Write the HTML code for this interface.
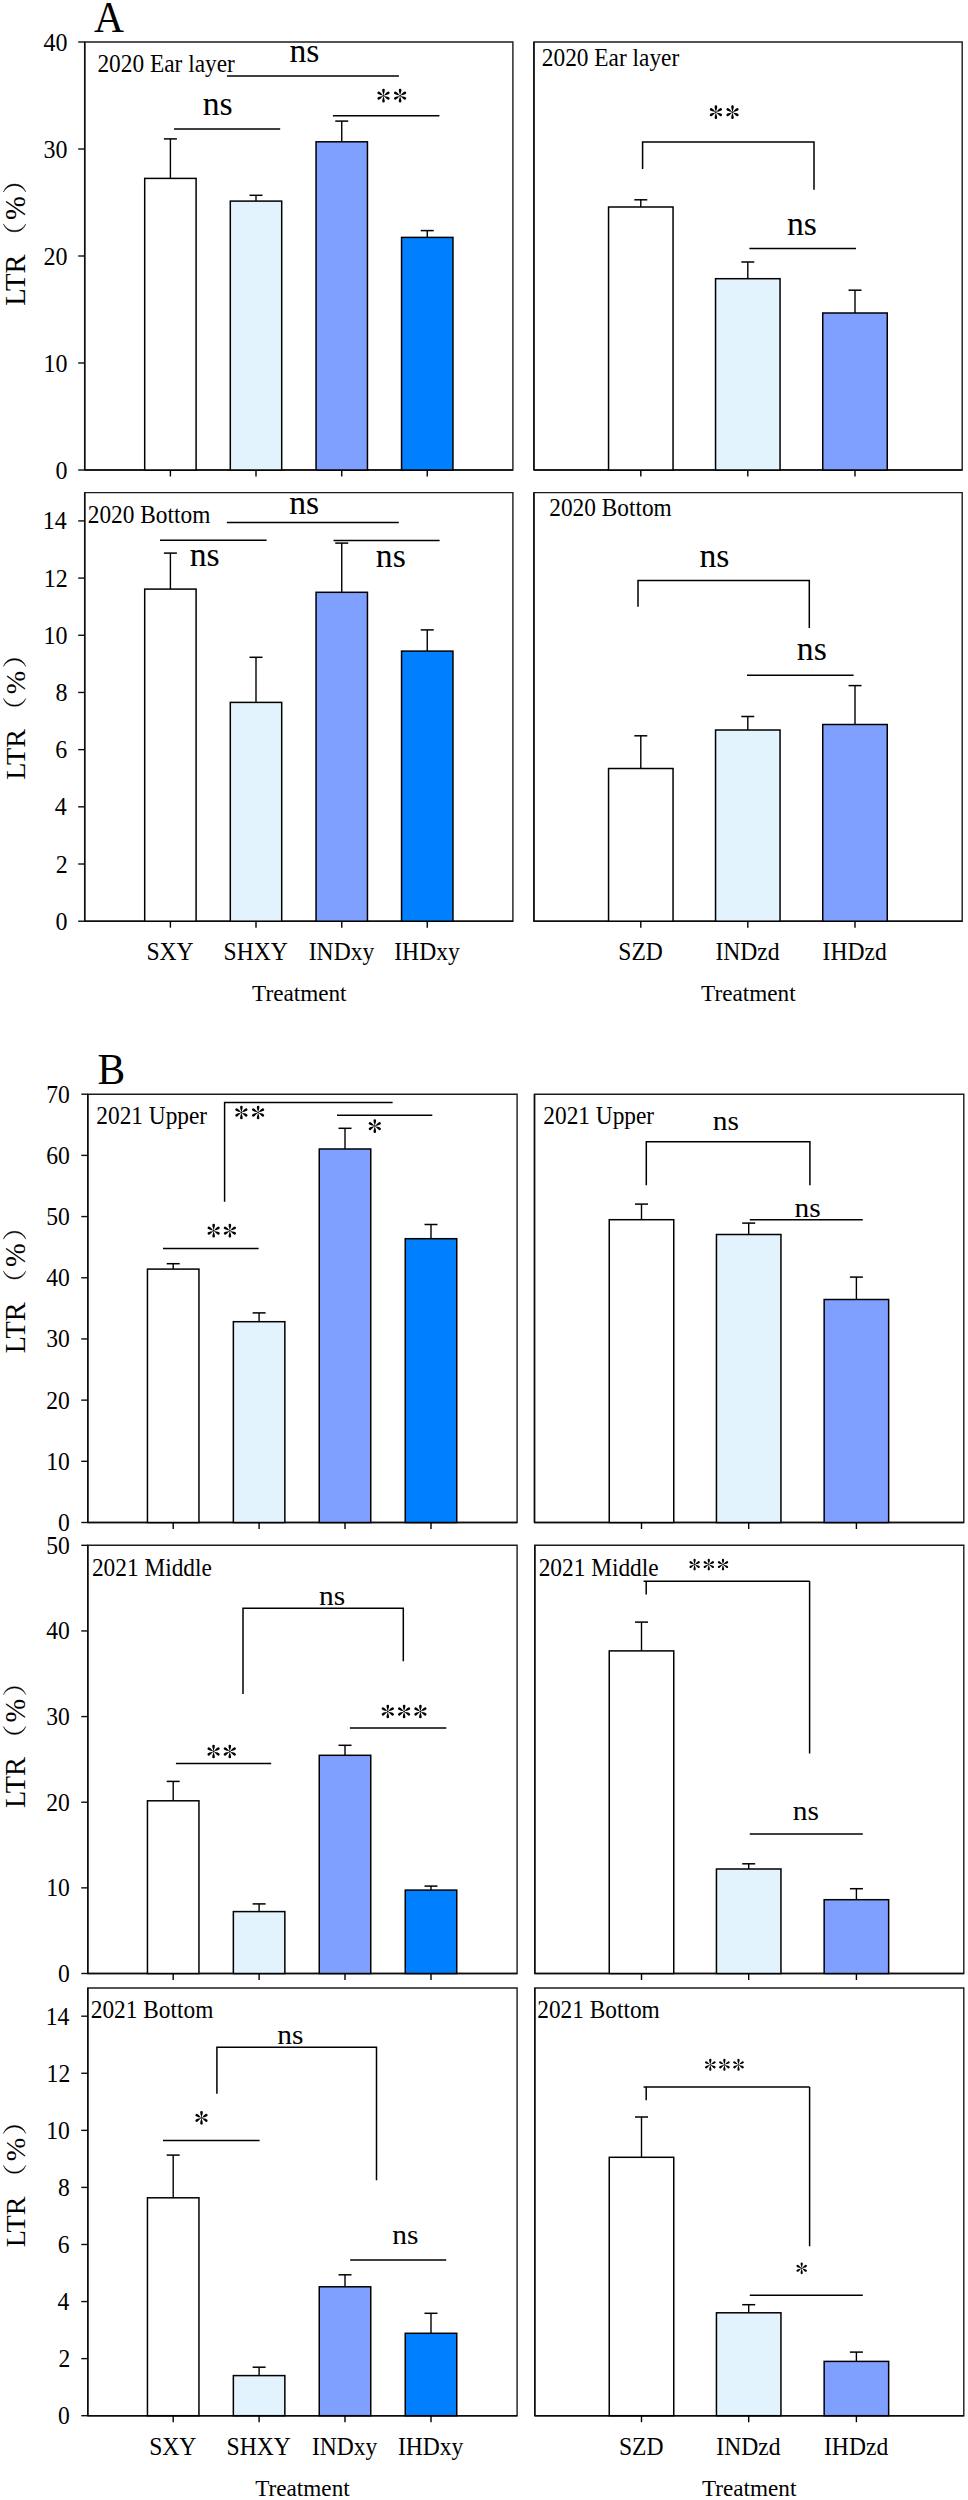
<!DOCTYPE html>
<html><head><meta charset="utf-8"><title>LTR figure</title>
<style>
html,body{margin:0;padding:0;background:#fff;}
svg{display:block;}
text{font-family:"Liberation Serif", serif;fill:#000;}
</style></head>
<body>
<svg width="968" height="2500" viewBox="0 0 968 2500">
<rect x="0" y="0" width="968" height="2500" fill="#fff"/>
<text transform="translate(93.96,31.50) scale(1.0,1.05)" font-size="41.5">A</text>
<path d="M84.70 470.00 L84.70 42.00 L512.90 42.00 L512.90 470.00 Z" fill="none" stroke="#1c1c1c" stroke-width="1.4" stroke-linejoin="miter"/>
<line x1="84.70" y1="42.00" x2="84.70" y2="470.00" stroke="#0d0d0d" stroke-width="1.5"/>
<line x1="84.70" y1="470.00" x2="512.90" y2="470.00" stroke="#0d0d0d" stroke-width="1.5"/>
<line x1="78.20" y1="470.00" x2="84.70" y2="470.00" stroke="#0d0d0d" stroke-width="1.4"/>
<text transform="translate(55.46,478.58) scale(1,1.09)" font-size="24">0</text>
<line x1="78.20" y1="363.00" x2="84.70" y2="363.00" stroke="#0d0d0d" stroke-width="1.4"/>
<text transform="translate(43.46,371.58) scale(1,1.09)" font-size="24">10</text>
<line x1="78.20" y1="256.00" x2="84.70" y2="256.00" stroke="#0d0d0d" stroke-width="1.4"/>
<text transform="translate(43.46,264.58) scale(1,1.09)" font-size="24">20</text>
<line x1="78.20" y1="149.00" x2="84.70" y2="149.00" stroke="#0d0d0d" stroke-width="1.4"/>
<text transform="translate(43.46,157.58) scale(1,1.09)" font-size="24">30</text>
<line x1="78.20" y1="42.00" x2="84.70" y2="42.00" stroke="#0d0d0d" stroke-width="1.4"/>
<text transform="translate(43.46,50.58) scale(1,1.09)" font-size="24">40</text>
<line x1="170.40" y1="178.40" x2="170.40" y2="138.90" stroke="#000" stroke-width="1.4"/>
<line x1="163.90" y1="138.90" x2="176.90" y2="138.90" stroke="#000" stroke-width="1.5"/>
<rect x="144.70" y="178.40" width="51.40" height="291.60" fill="#ffffff" stroke="#000" stroke-width="1.5"/>
<line x1="170.40" y1="470.00" x2="170.40" y2="476.50" stroke="#000" stroke-width="1.4"/>
<line x1="256.00" y1="201.10" x2="256.00" y2="195.30" stroke="#000" stroke-width="1.4"/>
<line x1="249.50" y1="195.30" x2="262.50" y2="195.30" stroke="#000" stroke-width="1.5"/>
<rect x="230.30" y="201.10" width="51.40" height="268.90" fill="#e2f3fe" stroke="#000" stroke-width="1.5"/>
<line x1="256.00" y1="470.00" x2="256.00" y2="476.50" stroke="#000" stroke-width="1.4"/>
<line x1="341.75" y1="141.80" x2="341.75" y2="121.10" stroke="#000" stroke-width="1.4"/>
<line x1="335.25" y1="121.10" x2="348.25" y2="121.10" stroke="#000" stroke-width="1.5"/>
<rect x="316.05" y="141.80" width="51.40" height="328.20" fill="#80a0ff" stroke="#000" stroke-width="1.5"/>
<line x1="341.75" y1="470.00" x2="341.75" y2="476.50" stroke="#000" stroke-width="1.4"/>
<line x1="427.25" y1="237.40" x2="427.25" y2="230.60" stroke="#000" stroke-width="1.4"/>
<line x1="420.75" y1="230.60" x2="433.75" y2="230.60" stroke="#000" stroke-width="1.5"/>
<rect x="401.55" y="237.40" width="51.40" height="232.60" fill="#0080ff" stroke="#000" stroke-width="1.5"/>
<line x1="427.25" y1="470.00" x2="427.25" y2="476.50" stroke="#000" stroke-width="1.4"/>
<text transform="translate(97.43,72.40) scale(1.0,1.07)" font-size="23.35">2020 Ear layer</text>
<line x1="226.90" y1="75.90" x2="398.90" y2="75.90" stroke="#000" stroke-width="1.5"/>
<text x="289.42" y="62.40" font-size="33.7">ns</text>
<line x1="174.00" y1="129.00" x2="280.20" y2="129.00" stroke="#000" stroke-width="1.5"/>
<text x="202.67" y="115.00" font-size="33.7">ns</text>
<line x1="332.90" y1="115.70" x2="439.40" y2="115.70" stroke="#000" stroke-width="1.5"/>
<g transform="translate(383.50,95.65) scale(1.000)" fill="#000"><path d="M0 0 C-0.3 -1.9,-1.3 -3.7,-1.3 -5.55 A1.3 1.3 0 0 1 1.3 -5.55 C1.3 -3.7,0.3 -1.9,0 0 Z"/><path d="M0 0 C-0.3 -1.9,-1.3 -3.7,-1.3 -5.55 A1.3 1.3 0 0 1 1.3 -5.55 C1.3 -3.7,0.3 -1.9,0 0 Z" transform="rotate(60)"/><path d="M0 0 C-0.3 -1.9,-1.3 -3.7,-1.3 -5.55 A1.3 1.3 0 0 1 1.3 -5.55 C1.3 -3.7,0.3 -1.9,0 0 Z" transform="rotate(120)"/><path d="M0 0 C-0.3 -1.9,-1.3 -3.7,-1.3 -5.55 A1.3 1.3 0 0 1 1.3 -5.55 C1.3 -3.7,0.3 -1.9,0 0 Z" transform="rotate(180)"/><path d="M0 0 C-0.3 -1.9,-1.3 -3.7,-1.3 -5.55 A1.3 1.3 0 0 1 1.3 -5.55 C1.3 -3.7,0.3 -1.9,0 0 Z" transform="rotate(240)"/><path d="M0 0 C-0.3 -1.9,-1.3 -3.7,-1.3 -5.55 A1.3 1.3 0 0 1 1.3 -5.55 C1.3 -3.7,0.3 -1.9,0 0 Z" transform="rotate(300)"/><circle r="0.75"/></g>
<g transform="translate(400.10,95.65) scale(1.000)" fill="#000"><path d="M0 0 C-0.3 -1.9,-1.3 -3.7,-1.3 -5.55 A1.3 1.3 0 0 1 1.3 -5.55 C1.3 -3.7,0.3 -1.9,0 0 Z"/><path d="M0 0 C-0.3 -1.9,-1.3 -3.7,-1.3 -5.55 A1.3 1.3 0 0 1 1.3 -5.55 C1.3 -3.7,0.3 -1.9,0 0 Z" transform="rotate(60)"/><path d="M0 0 C-0.3 -1.9,-1.3 -3.7,-1.3 -5.55 A1.3 1.3 0 0 1 1.3 -5.55 C1.3 -3.7,0.3 -1.9,0 0 Z" transform="rotate(120)"/><path d="M0 0 C-0.3 -1.9,-1.3 -3.7,-1.3 -5.55 A1.3 1.3 0 0 1 1.3 -5.55 C1.3 -3.7,0.3 -1.9,0 0 Z" transform="rotate(180)"/><path d="M0 0 C-0.3 -1.9,-1.3 -3.7,-1.3 -5.55 A1.3 1.3 0 0 1 1.3 -5.55 C1.3 -3.7,0.3 -1.9,0 0 Z" transform="rotate(240)"/><path d="M0 0 C-0.3 -1.9,-1.3 -3.7,-1.3 -5.55 A1.3 1.3 0 0 1 1.3 -5.55 C1.3 -3.7,0.3 -1.9,0 0 Z" transform="rotate(300)"/><circle r="0.75"/></g>
<text transform="translate(25.1,305.86) rotate(-90)" font-size="28.56">LTR</text>
<text transform="translate(25.37,219.92) rotate(-90)" font-size="28.56">%</text>
<path d="M3.4 192.00 A11.9 11.9 0 0 1 25.8 192.00 A12.8 12.8 0 0 0 3.4 192.00 Z" fill="#000" stroke="#000" stroke-width="0.4"/>
<path d="M3.4 223.90 A11.9 11.9 0 0 0 25.8 223.90 A12.8 12.8 0 0 1 3.4 223.90 Z" fill="#000" stroke="#000" stroke-width="0.4"/>
<path d="M533.90 470.00 L533.90 42.00 L962.20 42.00 L962.20 470.00 Z" fill="none" stroke="#1c1c1c" stroke-width="1.4" stroke-linejoin="miter"/>
<line x1="533.90" y1="42.00" x2="533.90" y2="470.00" stroke="#0d0d0d" stroke-width="1.5"/>
<line x1="533.90" y1="470.00" x2="962.20" y2="470.00" stroke="#0d0d0d" stroke-width="1.5"/>
<line x1="640.80" y1="207.00" x2="640.80" y2="199.80" stroke="#000" stroke-width="1.4"/>
<line x1="634.30" y1="199.80" x2="647.30" y2="199.80" stroke="#000" stroke-width="1.5"/>
<rect x="608.55" y="207.00" width="64.50" height="263.00" fill="#ffffff" stroke="#000" stroke-width="1.5"/>
<line x1="640.80" y1="470.00" x2="640.80" y2="476.50" stroke="#000" stroke-width="1.4"/>
<line x1="747.80" y1="278.70" x2="747.80" y2="262.00" stroke="#000" stroke-width="1.4"/>
<line x1="741.30" y1="262.00" x2="754.30" y2="262.00" stroke="#000" stroke-width="1.5"/>
<rect x="715.55" y="278.70" width="64.50" height="191.30" fill="#e2f3fe" stroke="#000" stroke-width="1.5"/>
<line x1="747.80" y1="470.00" x2="747.80" y2="476.50" stroke="#000" stroke-width="1.4"/>
<line x1="855.00" y1="313.00" x2="855.00" y2="290.20" stroke="#000" stroke-width="1.4"/>
<line x1="848.50" y1="290.20" x2="861.50" y2="290.20" stroke="#000" stroke-width="1.5"/>
<rect x="822.75" y="313.00" width="64.50" height="157.00" fill="#80a0ff" stroke="#000" stroke-width="1.5"/>
<line x1="855.00" y1="470.00" x2="855.00" y2="476.50" stroke="#000" stroke-width="1.4"/>
<text transform="translate(541.83,66.20) scale(1.0,1.07)" font-size="23.35">2020 Ear layer</text>
<path d="M642.60 169.00 L642.60 142.00 L814.00 142.00 L814.00 189.80" stroke="#000" stroke-width="1.5" fill="none"/>
<g transform="translate(715.90,112.20) scale(1.000)" fill="#000"><path d="M0 0 C-0.3 -1.9,-1.3 -3.7,-1.3 -5.55 A1.3 1.3 0 0 1 1.3 -5.55 C1.3 -3.7,0.3 -1.9,0 0 Z"/><path d="M0 0 C-0.3 -1.9,-1.3 -3.7,-1.3 -5.55 A1.3 1.3 0 0 1 1.3 -5.55 C1.3 -3.7,0.3 -1.9,0 0 Z" transform="rotate(60)"/><path d="M0 0 C-0.3 -1.9,-1.3 -3.7,-1.3 -5.55 A1.3 1.3 0 0 1 1.3 -5.55 C1.3 -3.7,0.3 -1.9,0 0 Z" transform="rotate(120)"/><path d="M0 0 C-0.3 -1.9,-1.3 -3.7,-1.3 -5.55 A1.3 1.3 0 0 1 1.3 -5.55 C1.3 -3.7,0.3 -1.9,0 0 Z" transform="rotate(180)"/><path d="M0 0 C-0.3 -1.9,-1.3 -3.7,-1.3 -5.55 A1.3 1.3 0 0 1 1.3 -5.55 C1.3 -3.7,0.3 -1.9,0 0 Z" transform="rotate(240)"/><path d="M0 0 C-0.3 -1.9,-1.3 -3.7,-1.3 -5.55 A1.3 1.3 0 0 1 1.3 -5.55 C1.3 -3.7,0.3 -1.9,0 0 Z" transform="rotate(300)"/><circle r="0.75"/></g>
<g transform="translate(732.50,112.20) scale(1.000)" fill="#000"><path d="M0 0 C-0.3 -1.9,-1.3 -3.7,-1.3 -5.55 A1.3 1.3 0 0 1 1.3 -5.55 C1.3 -3.7,0.3 -1.9,0 0 Z"/><path d="M0 0 C-0.3 -1.9,-1.3 -3.7,-1.3 -5.55 A1.3 1.3 0 0 1 1.3 -5.55 C1.3 -3.7,0.3 -1.9,0 0 Z" transform="rotate(60)"/><path d="M0 0 C-0.3 -1.9,-1.3 -3.7,-1.3 -5.55 A1.3 1.3 0 0 1 1.3 -5.55 C1.3 -3.7,0.3 -1.9,0 0 Z" transform="rotate(120)"/><path d="M0 0 C-0.3 -1.9,-1.3 -3.7,-1.3 -5.55 A1.3 1.3 0 0 1 1.3 -5.55 C1.3 -3.7,0.3 -1.9,0 0 Z" transform="rotate(180)"/><path d="M0 0 C-0.3 -1.9,-1.3 -3.7,-1.3 -5.55 A1.3 1.3 0 0 1 1.3 -5.55 C1.3 -3.7,0.3 -1.9,0 0 Z" transform="rotate(240)"/><path d="M0 0 C-0.3 -1.9,-1.3 -3.7,-1.3 -5.55 A1.3 1.3 0 0 1 1.3 -5.55 C1.3 -3.7,0.3 -1.9,0 0 Z" transform="rotate(300)"/><circle r="0.75"/></g>
<line x1="749.40" y1="248.40" x2="856.00" y2="248.40" stroke="#000" stroke-width="1.5"/>
<text x="786.97" y="235.00" font-size="33.7">ns</text>
<path d="M84.70 921.20 L84.70 492.60 L512.90 492.60 L512.90 921.20 Z" fill="none" stroke="#1c1c1c" stroke-width="1.4" stroke-linejoin="miter"/>
<line x1="84.70" y1="492.60" x2="84.70" y2="921.20" stroke="#0d0d0d" stroke-width="1.5"/>
<line x1="84.70" y1="921.20" x2="512.90" y2="921.20" stroke="#0d0d0d" stroke-width="1.5"/>
<line x1="78.20" y1="921.20" x2="84.70" y2="921.20" stroke="#0d0d0d" stroke-width="1.4"/>
<text transform="translate(55.46,929.78) scale(1,1.09)" font-size="24">0</text>
<line x1="78.20" y1="864.01" x2="84.70" y2="864.01" stroke="#0d0d0d" stroke-width="1.4"/>
<text transform="translate(55.82,872.59) scale(1,1.09)" font-size="24">2</text>
<line x1="78.20" y1="806.83" x2="84.70" y2="806.83" stroke="#0d0d0d" stroke-width="1.4"/>
<text transform="translate(54.86,815.41) scale(1,1.09)" font-size="24">4</text>
<line x1="78.20" y1="749.64" x2="84.70" y2="749.64" stroke="#0d0d0d" stroke-width="1.4"/>
<text transform="translate(55.22,758.22) scale(1,1.09)" font-size="24">6</text>
<line x1="78.20" y1="692.46" x2="84.70" y2="692.46" stroke="#0d0d0d" stroke-width="1.4"/>
<text transform="translate(55.46,701.04) scale(1,1.09)" font-size="24">8</text>
<line x1="78.20" y1="635.27" x2="84.70" y2="635.27" stroke="#0d0d0d" stroke-width="1.4"/>
<text transform="translate(43.46,643.85) scale(1,1.09)" font-size="24">10</text>
<line x1="78.20" y1="578.09" x2="84.70" y2="578.09" stroke="#0d0d0d" stroke-width="1.4"/>
<text transform="translate(43.82,586.66) scale(1,1.09)" font-size="24">12</text>
<line x1="78.20" y1="520.90" x2="84.70" y2="520.90" stroke="#0d0d0d" stroke-width="1.4"/>
<text transform="translate(42.86,529.48) scale(1,1.09)" font-size="24">14</text>
<line x1="170.40" y1="589.10" x2="170.40" y2="553.10" stroke="#000" stroke-width="1.4"/>
<line x1="163.90" y1="553.10" x2="176.90" y2="553.10" stroke="#000" stroke-width="1.5"/>
<rect x="144.70" y="589.10" width="51.40" height="332.10" fill="#ffffff" stroke="#000" stroke-width="1.5"/>
<line x1="170.40" y1="921.20" x2="170.40" y2="927.70" stroke="#000" stroke-width="1.4"/>
<line x1="256.00" y1="702.40" x2="256.00" y2="657.30" stroke="#000" stroke-width="1.4"/>
<line x1="249.50" y1="657.30" x2="262.50" y2="657.30" stroke="#000" stroke-width="1.5"/>
<rect x="230.30" y="702.40" width="51.40" height="218.80" fill="#e2f3fe" stroke="#000" stroke-width="1.5"/>
<line x1="256.00" y1="921.20" x2="256.00" y2="927.70" stroke="#000" stroke-width="1.4"/>
<line x1="341.75" y1="592.30" x2="341.75" y2="543.10" stroke="#000" stroke-width="1.4"/>
<line x1="335.25" y1="543.10" x2="348.25" y2="543.10" stroke="#000" stroke-width="1.5"/>
<rect x="316.05" y="592.30" width="51.40" height="328.90" fill="#80a0ff" stroke="#000" stroke-width="1.5"/>
<line x1="341.75" y1="921.20" x2="341.75" y2="927.70" stroke="#000" stroke-width="1.4"/>
<line x1="427.25" y1="651.10" x2="427.25" y2="629.90" stroke="#000" stroke-width="1.4"/>
<line x1="420.75" y1="629.90" x2="433.75" y2="629.90" stroke="#000" stroke-width="1.5"/>
<rect x="401.55" y="651.10" width="51.40" height="270.10" fill="#0080ff" stroke="#000" stroke-width="1.5"/>
<line x1="427.25" y1="921.20" x2="427.25" y2="927.70" stroke="#000" stroke-width="1.4"/>
<text transform="translate(87.76,522.60) scale(1.0,1.07)" font-size="23.35">2020 Bottom</text>
<line x1="226.90" y1="522.50" x2="398.80" y2="522.50" stroke="#000" stroke-width="1.5"/>
<text x="289.27" y="513.60" font-size="33.7">ns</text>
<line x1="160.00" y1="540.20" x2="266.60" y2="540.20" stroke="#000" stroke-width="1.5"/>
<text x="189.72" y="565.50" font-size="33.7">ns</text>
<line x1="333.50" y1="540.40" x2="439.60" y2="540.40" stroke="#000" stroke-width="1.5"/>
<text x="375.87" y="566.50" font-size="33.7">ns</text>
<text transform="translate(25.1,779.64) rotate(-90)" font-size="28.16">LTR</text>
<text transform="translate(25.38,694.26) rotate(-90)" font-size="28.16">%</text>
<path d="M3.4 666.50 A11.9 11.9 0 0 1 25.8 666.50 A12.8 12.8 0 0 0 3.4 666.50 Z" fill="#000" stroke="#000" stroke-width="0.4"/>
<path d="M3.4 698.40 A11.9 11.9 0 0 0 25.8 698.40 A12.8 12.8 0 0 1 3.4 698.40 Z" fill="#000" stroke="#000" stroke-width="0.4"/>
<path d="M533.90 921.20 L533.90 492.60 L962.20 492.60 L962.20 921.20 Z" fill="none" stroke="#1c1c1c" stroke-width="1.4" stroke-linejoin="miter"/>
<line x1="533.90" y1="492.60" x2="533.90" y2="921.20" stroke="#0d0d0d" stroke-width="1.5"/>
<line x1="533.90" y1="921.20" x2="962.20" y2="921.20" stroke="#0d0d0d" stroke-width="1.5"/>
<line x1="640.80" y1="768.50" x2="640.80" y2="735.80" stroke="#000" stroke-width="1.4"/>
<line x1="634.30" y1="735.80" x2="647.30" y2="735.80" stroke="#000" stroke-width="1.5"/>
<rect x="608.55" y="768.50" width="64.50" height="152.70" fill="#ffffff" stroke="#000" stroke-width="1.5"/>
<line x1="640.80" y1="921.20" x2="640.80" y2="927.70" stroke="#000" stroke-width="1.4"/>
<line x1="747.80" y1="730.00" x2="747.80" y2="716.50" stroke="#000" stroke-width="1.4"/>
<line x1="741.30" y1="716.50" x2="754.30" y2="716.50" stroke="#000" stroke-width="1.5"/>
<rect x="715.55" y="730.00" width="64.50" height="191.20" fill="#e2f3fe" stroke="#000" stroke-width="1.5"/>
<line x1="747.80" y1="921.20" x2="747.80" y2="927.70" stroke="#000" stroke-width="1.4"/>
<line x1="855.00" y1="724.50" x2="855.00" y2="685.60" stroke="#000" stroke-width="1.4"/>
<line x1="848.50" y1="685.60" x2="861.50" y2="685.60" stroke="#000" stroke-width="1.5"/>
<rect x="822.75" y="724.50" width="64.50" height="196.70" fill="#80a0ff" stroke="#000" stroke-width="1.5"/>
<line x1="855.00" y1="921.20" x2="855.00" y2="927.70" stroke="#000" stroke-width="1.4"/>
<text transform="translate(549.21,516.30) scale(1.0,1.07)" font-size="23.35">2020 Bottom</text>
<path d="M638.00 606.80 L638.00 580.50 L809.30 580.50 L809.30 628.10" stroke="#000" stroke-width="1.5" fill="none"/>
<text x="699.47" y="566.50" font-size="33.7">ns</text>
<line x1="747.00" y1="675.20" x2="853.60" y2="675.20" stroke="#000" stroke-width="1.5"/>
<text x="796.87" y="659.50" font-size="33.7">ns</text>
<text transform="translate(146.43,959.90) scale(1.0,1.05)" font-size="23.6">SXY</text>
<text transform="translate(223.53,959.90) scale(1.0,1.05)" font-size="23.6">SHXY</text>
<text transform="translate(308.75,959.90) scale(1.0,1.05)" font-size="23.6">INDxy</text>
<text transform="translate(394.25,959.90) scale(1.0,1.05)" font-size="23.6">IHDxy</text>
<text transform="translate(618.26,959.90) scale(1.0,1.05)" font-size="23.6">SZD</text>
<text transform="translate(715.41,959.90) scale(1.0,1.05)" font-size="23.6">INDzd</text>
<text transform="translate(822.61,959.90) scale(1.0,1.05)" font-size="23.6">IHDzd</text>
<text transform="translate(252.06,1000.80) scale(1.0,1.04)" font-size="23.2">Treatment</text>
<text transform="translate(701.11,1000.80) scale(1.0,1.04)" font-size="23.2">Treatment</text>
<text transform="translate(97.56,1083.80) scale(1.0,1.05)" font-size="41.5">B</text>
<path d="M87.80 1522.50 L87.80 1094.20 L517.10 1094.20 L517.10 1522.50 Z" fill="none" stroke="#1c1c1c" stroke-width="1.4" stroke-linejoin="miter"/>
<line x1="87.80" y1="1094.20" x2="87.80" y2="1522.50" stroke="#0d0d0d" stroke-width="1.5"/>
<line x1="87.80" y1="1522.50" x2="517.10" y2="1522.50" stroke="#0d0d0d" stroke-width="1.5"/>
<line x1="81.30" y1="1522.50" x2="87.80" y2="1522.50" stroke="#0d0d0d" stroke-width="1.4"/>
<text transform="translate(58.04,1530.94) scale(1,1.09)" font-size="23.6">0</text>
<line x1="81.30" y1="1461.31" x2="87.80" y2="1461.31" stroke="#0d0d0d" stroke-width="1.4"/>
<text transform="translate(46.24,1469.75) scale(1,1.09)" font-size="23.6">10</text>
<line x1="81.30" y1="1400.13" x2="87.80" y2="1400.13" stroke="#0d0d0d" stroke-width="1.4"/>
<text transform="translate(46.24,1408.56) scale(1,1.09)" font-size="23.6">20</text>
<line x1="81.30" y1="1338.94" x2="87.80" y2="1338.94" stroke="#0d0d0d" stroke-width="1.4"/>
<text transform="translate(46.24,1347.38) scale(1,1.09)" font-size="23.6">30</text>
<line x1="81.30" y1="1277.76" x2="87.80" y2="1277.76" stroke="#0d0d0d" stroke-width="1.4"/>
<text transform="translate(46.24,1286.19) scale(1,1.09)" font-size="23.6">40</text>
<line x1="81.30" y1="1216.57" x2="87.80" y2="1216.57" stroke="#0d0d0d" stroke-width="1.4"/>
<text transform="translate(46.24,1225.01) scale(1,1.09)" font-size="23.6">50</text>
<line x1="81.30" y1="1155.39" x2="87.80" y2="1155.39" stroke="#0d0d0d" stroke-width="1.4"/>
<text transform="translate(46.24,1163.82) scale(1,1.09)" font-size="23.6">60</text>
<line x1="81.30" y1="1094.20" x2="87.80" y2="1094.20" stroke="#0d0d0d" stroke-width="1.4"/>
<text transform="translate(46.24,1102.64) scale(1,1.09)" font-size="23.6">70</text>
<line x1="173.20" y1="1269.10" x2="173.20" y2="1263.70" stroke="#000" stroke-width="1.4"/>
<line x1="166.70" y1="1263.70" x2="179.70" y2="1263.70" stroke="#000" stroke-width="1.5"/>
<rect x="147.45" y="1269.10" width="51.50" height="253.40" fill="#ffffff" stroke="#000" stroke-width="1.5"/>
<line x1="173.20" y1="1522.50" x2="173.20" y2="1529.00" stroke="#000" stroke-width="1.4"/>
<line x1="259.10" y1="1321.70" x2="259.10" y2="1312.90" stroke="#000" stroke-width="1.4"/>
<line x1="252.60" y1="1312.90" x2="265.60" y2="1312.90" stroke="#000" stroke-width="1.5"/>
<rect x="233.35" y="1321.70" width="51.50" height="200.80" fill="#e2f3fe" stroke="#000" stroke-width="1.5"/>
<line x1="259.10" y1="1522.50" x2="259.10" y2="1529.00" stroke="#000" stroke-width="1.4"/>
<line x1="345.00" y1="1149.00" x2="345.00" y2="1128.30" stroke="#000" stroke-width="1.4"/>
<line x1="338.50" y1="1128.30" x2="351.50" y2="1128.30" stroke="#000" stroke-width="1.5"/>
<rect x="319.25" y="1149.00" width="51.50" height="373.50" fill="#80a0ff" stroke="#000" stroke-width="1.5"/>
<line x1="345.00" y1="1522.50" x2="345.00" y2="1529.00" stroke="#000" stroke-width="1.4"/>
<line x1="431.00" y1="1238.70" x2="431.00" y2="1224.50" stroke="#000" stroke-width="1.4"/>
<line x1="424.50" y1="1224.50" x2="437.50" y2="1224.50" stroke="#000" stroke-width="1.5"/>
<rect x="405.25" y="1238.70" width="51.50" height="283.80" fill="#0080ff" stroke="#000" stroke-width="1.5"/>
<line x1="431.00" y1="1522.50" x2="431.00" y2="1529.00" stroke="#000" stroke-width="1.4"/>
<text transform="translate(96.29,1124.00) scale(1.0,1.07)" font-size="23.35">2021 Upper</text>
<path d="M224.60 1201.80 L224.60 1102.50 L392.60 1102.50" stroke="#000" stroke-width="1.5" fill="none"/>
<g transform="translate(241.40,1112.50) scale(1.000)" fill="#000"><path d="M0 0 C-0.3 -1.9,-1.3 -3.7,-1.3 -5.55 A1.3 1.3 0 0 1 1.3 -5.55 C1.3 -3.7,0.3 -1.9,0 0 Z"/><path d="M0 0 C-0.3 -1.9,-1.3 -3.7,-1.3 -5.55 A1.3 1.3 0 0 1 1.3 -5.55 C1.3 -3.7,0.3 -1.9,0 0 Z" transform="rotate(60)"/><path d="M0 0 C-0.3 -1.9,-1.3 -3.7,-1.3 -5.55 A1.3 1.3 0 0 1 1.3 -5.55 C1.3 -3.7,0.3 -1.9,0 0 Z" transform="rotate(120)"/><path d="M0 0 C-0.3 -1.9,-1.3 -3.7,-1.3 -5.55 A1.3 1.3 0 0 1 1.3 -5.55 C1.3 -3.7,0.3 -1.9,0 0 Z" transform="rotate(180)"/><path d="M0 0 C-0.3 -1.9,-1.3 -3.7,-1.3 -5.55 A1.3 1.3 0 0 1 1.3 -5.55 C1.3 -3.7,0.3 -1.9,0 0 Z" transform="rotate(240)"/><path d="M0 0 C-0.3 -1.9,-1.3 -3.7,-1.3 -5.55 A1.3 1.3 0 0 1 1.3 -5.55 C1.3 -3.7,0.3 -1.9,0 0 Z" transform="rotate(300)"/><circle r="0.75"/></g>
<g transform="translate(258.10,1112.50) scale(1.000)" fill="#000"><path d="M0 0 C-0.3 -1.9,-1.3 -3.7,-1.3 -5.55 A1.3 1.3 0 0 1 1.3 -5.55 C1.3 -3.7,0.3 -1.9,0 0 Z"/><path d="M0 0 C-0.3 -1.9,-1.3 -3.7,-1.3 -5.55 A1.3 1.3 0 0 1 1.3 -5.55 C1.3 -3.7,0.3 -1.9,0 0 Z" transform="rotate(60)"/><path d="M0 0 C-0.3 -1.9,-1.3 -3.7,-1.3 -5.55 A1.3 1.3 0 0 1 1.3 -5.55 C1.3 -3.7,0.3 -1.9,0 0 Z" transform="rotate(120)"/><path d="M0 0 C-0.3 -1.9,-1.3 -3.7,-1.3 -5.55 A1.3 1.3 0 0 1 1.3 -5.55 C1.3 -3.7,0.3 -1.9,0 0 Z" transform="rotate(180)"/><path d="M0 0 C-0.3 -1.9,-1.3 -3.7,-1.3 -5.55 A1.3 1.3 0 0 1 1.3 -5.55 C1.3 -3.7,0.3 -1.9,0 0 Z" transform="rotate(240)"/><path d="M0 0 C-0.3 -1.9,-1.3 -3.7,-1.3 -5.55 A1.3 1.3 0 0 1 1.3 -5.55 C1.3 -3.7,0.3 -1.9,0 0 Z" transform="rotate(300)"/><circle r="0.75"/></g>
<line x1="337.00" y1="1115.20" x2="432.30" y2="1115.20" stroke="#000" stroke-width="1.5"/>
<g transform="translate(374.80,1126.10) scale(1.000)" fill="#000"><path d="M0 0 C-0.3 -1.9,-1.3 -3.7,-1.3 -5.55 A1.3 1.3 0 0 1 1.3 -5.55 C1.3 -3.7,0.3 -1.9,0 0 Z"/><path d="M0 0 C-0.3 -1.9,-1.3 -3.7,-1.3 -5.55 A1.3 1.3 0 0 1 1.3 -5.55 C1.3 -3.7,0.3 -1.9,0 0 Z" transform="rotate(60)"/><path d="M0 0 C-0.3 -1.9,-1.3 -3.7,-1.3 -5.55 A1.3 1.3 0 0 1 1.3 -5.55 C1.3 -3.7,0.3 -1.9,0 0 Z" transform="rotate(120)"/><path d="M0 0 C-0.3 -1.9,-1.3 -3.7,-1.3 -5.55 A1.3 1.3 0 0 1 1.3 -5.55 C1.3 -3.7,0.3 -1.9,0 0 Z" transform="rotate(180)"/><path d="M0 0 C-0.3 -1.9,-1.3 -3.7,-1.3 -5.55 A1.3 1.3 0 0 1 1.3 -5.55 C1.3 -3.7,0.3 -1.9,0 0 Z" transform="rotate(240)"/><path d="M0 0 C-0.3 -1.9,-1.3 -3.7,-1.3 -5.55 A1.3 1.3 0 0 1 1.3 -5.55 C1.3 -3.7,0.3 -1.9,0 0 Z" transform="rotate(300)"/><circle r="0.75"/></g>
<line x1="163.00" y1="1248.50" x2="258.60" y2="1248.50" stroke="#000" stroke-width="1.5"/>
<g transform="translate(213.65,1230.66) scale(1.000)" fill="#000"><path d="M0 0 C-0.3 -1.9,-1.3 -3.7,-1.3 -5.55 A1.3 1.3 0 0 1 1.3 -5.55 C1.3 -3.7,0.3 -1.9,0 0 Z"/><path d="M0 0 C-0.3 -1.9,-1.3 -3.7,-1.3 -5.55 A1.3 1.3 0 0 1 1.3 -5.55 C1.3 -3.7,0.3 -1.9,0 0 Z" transform="rotate(60)"/><path d="M0 0 C-0.3 -1.9,-1.3 -3.7,-1.3 -5.55 A1.3 1.3 0 0 1 1.3 -5.55 C1.3 -3.7,0.3 -1.9,0 0 Z" transform="rotate(120)"/><path d="M0 0 C-0.3 -1.9,-1.3 -3.7,-1.3 -5.55 A1.3 1.3 0 0 1 1.3 -5.55 C1.3 -3.7,0.3 -1.9,0 0 Z" transform="rotate(180)"/><path d="M0 0 C-0.3 -1.9,-1.3 -3.7,-1.3 -5.55 A1.3 1.3 0 0 1 1.3 -5.55 C1.3 -3.7,0.3 -1.9,0 0 Z" transform="rotate(240)"/><path d="M0 0 C-0.3 -1.9,-1.3 -3.7,-1.3 -5.55 A1.3 1.3 0 0 1 1.3 -5.55 C1.3 -3.7,0.3 -1.9,0 0 Z" transform="rotate(300)"/><circle r="0.75"/></g>
<g transform="translate(229.90,1230.66) scale(1.000)" fill="#000"><path d="M0 0 C-0.3 -1.9,-1.3 -3.7,-1.3 -5.55 A1.3 1.3 0 0 1 1.3 -5.55 C1.3 -3.7,0.3 -1.9,0 0 Z"/><path d="M0 0 C-0.3 -1.9,-1.3 -3.7,-1.3 -5.55 A1.3 1.3 0 0 1 1.3 -5.55 C1.3 -3.7,0.3 -1.9,0 0 Z" transform="rotate(60)"/><path d="M0 0 C-0.3 -1.9,-1.3 -3.7,-1.3 -5.55 A1.3 1.3 0 0 1 1.3 -5.55 C1.3 -3.7,0.3 -1.9,0 0 Z" transform="rotate(120)"/><path d="M0 0 C-0.3 -1.9,-1.3 -3.7,-1.3 -5.55 A1.3 1.3 0 0 1 1.3 -5.55 C1.3 -3.7,0.3 -1.9,0 0 Z" transform="rotate(180)"/><path d="M0 0 C-0.3 -1.9,-1.3 -3.7,-1.3 -5.55 A1.3 1.3 0 0 1 1.3 -5.55 C1.3 -3.7,0.3 -1.9,0 0 Z" transform="rotate(240)"/><path d="M0 0 C-0.3 -1.9,-1.3 -3.7,-1.3 -5.55 A1.3 1.3 0 0 1 1.3 -5.55 C1.3 -3.7,0.3 -1.9,0 0 Z" transform="rotate(300)"/><circle r="0.75"/></g>
<text transform="translate(25.1,1353.35) rotate(-90)" font-size="28.39">LTR</text>
<text transform="translate(25.37,1267.05) rotate(-90)" font-size="28.39">%</text>
<path d="M3.4 1239.20 A11.9 11.9 0 0 1 25.8 1239.20 A12.8 12.8 0 0 0 3.4 1239.20 Z" fill="#000" stroke="#000" stroke-width="0.4"/>
<path d="M3.4 1271.10 A11.9 11.9 0 0 0 25.8 1271.10 A12.8 12.8 0 0 1 3.4 1271.10 Z" fill="#000" stroke="#000" stroke-width="0.4"/>
<path d="M534.50 1522.50 L534.50 1094.20 L963.80 1094.20 L963.80 1522.50 Z" fill="none" stroke="#1c1c1c" stroke-width="1.4" stroke-linejoin="miter"/>
<line x1="534.50" y1="1094.20" x2="534.50" y2="1522.50" stroke="#0d0d0d" stroke-width="1.5"/>
<line x1="534.50" y1="1522.50" x2="963.80" y2="1522.50" stroke="#0d0d0d" stroke-width="1.5"/>
<line x1="641.50" y1="1219.70" x2="641.50" y2="1204.10" stroke="#000" stroke-width="1.4"/>
<line x1="635.00" y1="1204.10" x2="648.00" y2="1204.10" stroke="#000" stroke-width="1.5"/>
<rect x="609.25" y="1219.70" width="64.50" height="302.80" fill="#ffffff" stroke="#000" stroke-width="1.5"/>
<line x1="641.50" y1="1522.50" x2="641.50" y2="1529.00" stroke="#000" stroke-width="1.4"/>
<line x1="748.70" y1="1234.50" x2="748.70" y2="1223.10" stroke="#000" stroke-width="1.4"/>
<line x1="742.20" y1="1223.10" x2="755.20" y2="1223.10" stroke="#000" stroke-width="1.5"/>
<rect x="716.45" y="1234.50" width="64.50" height="288.00" fill="#e2f3fe" stroke="#000" stroke-width="1.5"/>
<line x1="748.70" y1="1522.50" x2="748.70" y2="1529.00" stroke="#000" stroke-width="1.4"/>
<line x1="856.40" y1="1299.50" x2="856.40" y2="1277.10" stroke="#000" stroke-width="1.4"/>
<line x1="849.90" y1="1277.10" x2="862.90" y2="1277.10" stroke="#000" stroke-width="1.5"/>
<rect x="824.15" y="1299.50" width="64.50" height="223.00" fill="#80a0ff" stroke="#000" stroke-width="1.5"/>
<line x1="856.40" y1="1522.50" x2="856.40" y2="1529.00" stroke="#000" stroke-width="1.4"/>
<text transform="translate(543.29,1124.30) scale(1.0,1.07)" font-size="23.35">2021 Upper</text>
<path d="M646.30 1185.30 L646.30 1141.70 L809.90 1141.70 L809.90 1185.20" stroke="#000" stroke-width="1.5" fill="none"/>
<text transform="translate(712.87,1130.40) scale(1.0,0.94)" font-size="29.5">ns</text>
<line x1="749.80" y1="1219.80" x2="862.80" y2="1219.80" stroke="#000" stroke-width="1.5"/>
<text transform="translate(794.57,1217.00) scale(1.0,0.94)" font-size="29.5">ns</text>
<path d="M87.80 1973.50 L87.80 1545.30 L517.10 1545.30 L517.10 1973.50 Z" fill="none" stroke="#1c1c1c" stroke-width="1.4" stroke-linejoin="miter"/>
<line x1="87.80" y1="1545.30" x2="87.80" y2="1973.50" stroke="#0d0d0d" stroke-width="1.5"/>
<line x1="87.80" y1="1973.50" x2="517.10" y2="1973.50" stroke="#0d0d0d" stroke-width="1.5"/>
<line x1="81.30" y1="1973.50" x2="87.80" y2="1973.50" stroke="#0d0d0d" stroke-width="1.4"/>
<text transform="translate(58.04,1981.94) scale(1,1.09)" font-size="23.6">0</text>
<line x1="81.30" y1="1887.86" x2="87.80" y2="1887.86" stroke="#0d0d0d" stroke-width="1.4"/>
<text transform="translate(46.24,1896.30) scale(1,1.09)" font-size="23.6">10</text>
<line x1="81.30" y1="1802.22" x2="87.80" y2="1802.22" stroke="#0d0d0d" stroke-width="1.4"/>
<text transform="translate(46.24,1810.66) scale(1,1.09)" font-size="23.6">20</text>
<line x1="81.30" y1="1716.58" x2="87.80" y2="1716.58" stroke="#0d0d0d" stroke-width="1.4"/>
<text transform="translate(46.24,1725.02) scale(1,1.09)" font-size="23.6">30</text>
<line x1="81.30" y1="1630.94" x2="87.80" y2="1630.94" stroke="#0d0d0d" stroke-width="1.4"/>
<text transform="translate(46.24,1639.38) scale(1,1.09)" font-size="23.6">40</text>
<line x1="81.30" y1="1545.30" x2="87.80" y2="1545.30" stroke="#0d0d0d" stroke-width="1.4"/>
<text transform="translate(46.24,1553.74) scale(1,1.09)" font-size="23.6">50</text>
<line x1="173.20" y1="1800.80" x2="173.20" y2="1781.40" stroke="#000" stroke-width="1.4"/>
<line x1="166.70" y1="1781.40" x2="179.70" y2="1781.40" stroke="#000" stroke-width="1.5"/>
<rect x="147.45" y="1800.80" width="51.50" height="172.70" fill="#ffffff" stroke="#000" stroke-width="1.5"/>
<line x1="173.20" y1="1973.50" x2="173.20" y2="1980.00" stroke="#000" stroke-width="1.4"/>
<line x1="259.10" y1="1911.60" x2="259.10" y2="1903.90" stroke="#000" stroke-width="1.4"/>
<line x1="252.60" y1="1903.90" x2="265.60" y2="1903.90" stroke="#000" stroke-width="1.5"/>
<rect x="233.35" y="1911.60" width="51.50" height="61.90" fill="#e2f3fe" stroke="#000" stroke-width="1.5"/>
<line x1="259.10" y1="1973.50" x2="259.10" y2="1980.00" stroke="#000" stroke-width="1.4"/>
<line x1="345.00" y1="1755.30" x2="345.00" y2="1745.30" stroke="#000" stroke-width="1.4"/>
<line x1="338.50" y1="1745.30" x2="351.50" y2="1745.30" stroke="#000" stroke-width="1.5"/>
<rect x="319.25" y="1755.30" width="51.50" height="218.20" fill="#80a0ff" stroke="#000" stroke-width="1.5"/>
<line x1="345.00" y1="1973.50" x2="345.00" y2="1980.00" stroke="#000" stroke-width="1.4"/>
<line x1="431.00" y1="1890.10" x2="431.00" y2="1886.10" stroke="#000" stroke-width="1.4"/>
<line x1="424.50" y1="1886.10" x2="437.50" y2="1886.10" stroke="#000" stroke-width="1.5"/>
<rect x="405.25" y="1890.10" width="51.50" height="83.40" fill="#0080ff" stroke="#000" stroke-width="1.5"/>
<line x1="431.00" y1="1973.50" x2="431.00" y2="1980.00" stroke="#000" stroke-width="1.4"/>
<text transform="translate(91.92,1576.20) scale(1.0,1.07)" font-size="23.35">2021 Middle</text>
<path d="M243.00 1694.00 L243.00 1608.30 L403.30 1608.30 L403.30 1661.30" stroke="#000" stroke-width="1.5" fill="none"/>
<text transform="translate(319.12,1605.10) scale(1.0,0.94)" font-size="29.5">ns</text>
<line x1="349.90" y1="1727.90" x2="446.30" y2="1727.90" stroke="#000" stroke-width="1.5"/>
<g transform="translate(387.80,1711.50) scale(1.000)" fill="#000"><path d="M0 0 C-0.3 -1.9,-1.3 -3.7,-1.3 -5.55 A1.3 1.3 0 0 1 1.3 -5.55 C1.3 -3.7,0.3 -1.9,0 0 Z"/><path d="M0 0 C-0.3 -1.9,-1.3 -3.7,-1.3 -5.55 A1.3 1.3 0 0 1 1.3 -5.55 C1.3 -3.7,0.3 -1.9,0 0 Z" transform="rotate(60)"/><path d="M0 0 C-0.3 -1.9,-1.3 -3.7,-1.3 -5.55 A1.3 1.3 0 0 1 1.3 -5.55 C1.3 -3.7,0.3 -1.9,0 0 Z" transform="rotate(120)"/><path d="M0 0 C-0.3 -1.9,-1.3 -3.7,-1.3 -5.55 A1.3 1.3 0 0 1 1.3 -5.55 C1.3 -3.7,0.3 -1.9,0 0 Z" transform="rotate(180)"/><path d="M0 0 C-0.3 -1.9,-1.3 -3.7,-1.3 -5.55 A1.3 1.3 0 0 1 1.3 -5.55 C1.3 -3.7,0.3 -1.9,0 0 Z" transform="rotate(240)"/><path d="M0 0 C-0.3 -1.9,-1.3 -3.7,-1.3 -5.55 A1.3 1.3 0 0 1 1.3 -5.55 C1.3 -3.7,0.3 -1.9,0 0 Z" transform="rotate(300)"/><circle r="0.75"/></g>
<g transform="translate(404.10,1711.50) scale(1.000)" fill="#000"><path d="M0 0 C-0.3 -1.9,-1.3 -3.7,-1.3 -5.55 A1.3 1.3 0 0 1 1.3 -5.55 C1.3 -3.7,0.3 -1.9,0 0 Z"/><path d="M0 0 C-0.3 -1.9,-1.3 -3.7,-1.3 -5.55 A1.3 1.3 0 0 1 1.3 -5.55 C1.3 -3.7,0.3 -1.9,0 0 Z" transform="rotate(60)"/><path d="M0 0 C-0.3 -1.9,-1.3 -3.7,-1.3 -5.55 A1.3 1.3 0 0 1 1.3 -5.55 C1.3 -3.7,0.3 -1.9,0 0 Z" transform="rotate(120)"/><path d="M0 0 C-0.3 -1.9,-1.3 -3.7,-1.3 -5.55 A1.3 1.3 0 0 1 1.3 -5.55 C1.3 -3.7,0.3 -1.9,0 0 Z" transform="rotate(180)"/><path d="M0 0 C-0.3 -1.9,-1.3 -3.7,-1.3 -5.55 A1.3 1.3 0 0 1 1.3 -5.55 C1.3 -3.7,0.3 -1.9,0 0 Z" transform="rotate(240)"/><path d="M0 0 C-0.3 -1.9,-1.3 -3.7,-1.3 -5.55 A1.3 1.3 0 0 1 1.3 -5.55 C1.3 -3.7,0.3 -1.9,0 0 Z" transform="rotate(300)"/><circle r="0.75"/></g>
<g transform="translate(420.40,1711.50) scale(1.000)" fill="#000"><path d="M0 0 C-0.3 -1.9,-1.3 -3.7,-1.3 -5.55 A1.3 1.3 0 0 1 1.3 -5.55 C1.3 -3.7,0.3 -1.9,0 0 Z"/><path d="M0 0 C-0.3 -1.9,-1.3 -3.7,-1.3 -5.55 A1.3 1.3 0 0 1 1.3 -5.55 C1.3 -3.7,0.3 -1.9,0 0 Z" transform="rotate(60)"/><path d="M0 0 C-0.3 -1.9,-1.3 -3.7,-1.3 -5.55 A1.3 1.3 0 0 1 1.3 -5.55 C1.3 -3.7,0.3 -1.9,0 0 Z" transform="rotate(120)"/><path d="M0 0 C-0.3 -1.9,-1.3 -3.7,-1.3 -5.55 A1.3 1.3 0 0 1 1.3 -5.55 C1.3 -3.7,0.3 -1.9,0 0 Z" transform="rotate(180)"/><path d="M0 0 C-0.3 -1.9,-1.3 -3.7,-1.3 -5.55 A1.3 1.3 0 0 1 1.3 -5.55 C1.3 -3.7,0.3 -1.9,0 0 Z" transform="rotate(240)"/><path d="M0 0 C-0.3 -1.9,-1.3 -3.7,-1.3 -5.55 A1.3 1.3 0 0 1 1.3 -5.55 C1.3 -3.7,0.3 -1.9,0 0 Z" transform="rotate(300)"/><circle r="0.75"/></g>
<line x1="175.90" y1="1763.50" x2="271.20" y2="1763.50" stroke="#000" stroke-width="1.5"/>
<g transform="translate(213.55,1751.50) scale(1.000)" fill="#000"><path d="M0 0 C-0.3 -1.9,-1.3 -3.7,-1.3 -5.55 A1.3 1.3 0 0 1 1.3 -5.55 C1.3 -3.7,0.3 -1.9,0 0 Z"/><path d="M0 0 C-0.3 -1.9,-1.3 -3.7,-1.3 -5.55 A1.3 1.3 0 0 1 1.3 -5.55 C1.3 -3.7,0.3 -1.9,0 0 Z" transform="rotate(60)"/><path d="M0 0 C-0.3 -1.9,-1.3 -3.7,-1.3 -5.55 A1.3 1.3 0 0 1 1.3 -5.55 C1.3 -3.7,0.3 -1.9,0 0 Z" transform="rotate(120)"/><path d="M0 0 C-0.3 -1.9,-1.3 -3.7,-1.3 -5.55 A1.3 1.3 0 0 1 1.3 -5.55 C1.3 -3.7,0.3 -1.9,0 0 Z" transform="rotate(180)"/><path d="M0 0 C-0.3 -1.9,-1.3 -3.7,-1.3 -5.55 A1.3 1.3 0 0 1 1.3 -5.55 C1.3 -3.7,0.3 -1.9,0 0 Z" transform="rotate(240)"/><path d="M0 0 C-0.3 -1.9,-1.3 -3.7,-1.3 -5.55 A1.3 1.3 0 0 1 1.3 -5.55 C1.3 -3.7,0.3 -1.9,0 0 Z" transform="rotate(300)"/><circle r="0.75"/></g>
<g transform="translate(229.80,1751.50) scale(1.000)" fill="#000"><path d="M0 0 C-0.3 -1.9,-1.3 -3.7,-1.3 -5.55 A1.3 1.3 0 0 1 1.3 -5.55 C1.3 -3.7,0.3 -1.9,0 0 Z"/><path d="M0 0 C-0.3 -1.9,-1.3 -3.7,-1.3 -5.55 A1.3 1.3 0 0 1 1.3 -5.55 C1.3 -3.7,0.3 -1.9,0 0 Z" transform="rotate(60)"/><path d="M0 0 C-0.3 -1.9,-1.3 -3.7,-1.3 -5.55 A1.3 1.3 0 0 1 1.3 -5.55 C1.3 -3.7,0.3 -1.9,0 0 Z" transform="rotate(120)"/><path d="M0 0 C-0.3 -1.9,-1.3 -3.7,-1.3 -5.55 A1.3 1.3 0 0 1 1.3 -5.55 C1.3 -3.7,0.3 -1.9,0 0 Z" transform="rotate(180)"/><path d="M0 0 C-0.3 -1.9,-1.3 -3.7,-1.3 -5.55 A1.3 1.3 0 0 1 1.3 -5.55 C1.3 -3.7,0.3 -1.9,0 0 Z" transform="rotate(240)"/><path d="M0 0 C-0.3 -1.9,-1.3 -3.7,-1.3 -5.55 A1.3 1.3 0 0 1 1.3 -5.55 C1.3 -3.7,0.3 -1.9,0 0 Z" transform="rotate(300)"/><circle r="0.75"/></g>
<text transform="translate(25.1,1808.05) rotate(-90)" font-size="28.39">LTR</text>
<text transform="translate(25.37,1722.45) rotate(-90)" font-size="28.39">%</text>
<path d="M3.4 1694.60 A11.9 11.9 0 0 1 25.8 1694.60 A12.8 12.8 0 0 0 3.4 1694.60 Z" fill="#000" stroke="#000" stroke-width="0.4"/>
<path d="M3.4 1726.50 A11.9 11.9 0 0 0 25.8 1726.50 A12.8 12.8 0 0 1 3.4 1726.50 Z" fill="#000" stroke="#000" stroke-width="0.4"/>
<path d="M534.80 1973.50 L534.80 1545.30 L963.80 1545.30 L963.80 1973.50 Z" fill="none" stroke="#1c1c1c" stroke-width="1.4" stroke-linejoin="miter"/>
<line x1="534.80" y1="1545.30" x2="534.80" y2="1973.50" stroke="#0d0d0d" stroke-width="1.5"/>
<line x1="534.80" y1="1973.50" x2="963.80" y2="1973.50" stroke="#0d0d0d" stroke-width="1.5"/>
<line x1="641.50" y1="1650.90" x2="641.50" y2="1622.10" stroke="#000" stroke-width="1.4"/>
<line x1="635.00" y1="1622.10" x2="648.00" y2="1622.10" stroke="#000" stroke-width="1.5"/>
<rect x="609.25" y="1650.90" width="64.50" height="322.60" fill="#ffffff" stroke="#000" stroke-width="1.5"/>
<line x1="641.50" y1="1973.50" x2="641.50" y2="1980.00" stroke="#000" stroke-width="1.4"/>
<line x1="748.70" y1="1869.00" x2="748.70" y2="1863.80" stroke="#000" stroke-width="1.4"/>
<line x1="742.20" y1="1863.80" x2="755.20" y2="1863.80" stroke="#000" stroke-width="1.5"/>
<rect x="716.45" y="1869.00" width="64.50" height="104.50" fill="#e2f3fe" stroke="#000" stroke-width="1.5"/>
<line x1="748.70" y1="1973.50" x2="748.70" y2="1980.00" stroke="#000" stroke-width="1.4"/>
<line x1="856.40" y1="1899.70" x2="856.40" y2="1888.70" stroke="#000" stroke-width="1.4"/>
<line x1="849.90" y1="1888.70" x2="862.90" y2="1888.70" stroke="#000" stroke-width="1.5"/>
<rect x="824.15" y="1899.70" width="64.50" height="73.80" fill="#80a0ff" stroke="#000" stroke-width="1.5"/>
<line x1="856.40" y1="1973.50" x2="856.40" y2="1980.00" stroke="#000" stroke-width="1.4"/>
<text transform="translate(538.67,1575.70) scale(1.0,1.07)" font-size="23.35">2021 Middle</text>
<line x1="643.60" y1="1581.20" x2="809.60" y2="1581.20" stroke="#000" stroke-width="1.5"/>
<path d="M646.2 1581.2 L646.2 1594.5" stroke="#000" stroke-width="1.5" fill="none"/>
<path d="M809.6 1581.2 L809.6 1753.5" stroke="#000" stroke-width="1.5" fill="none"/>
<g transform="translate(694.60,1564.60) scale(0.850)" fill="#000"><path d="M0 0 C-0.3 -1.9,-1.3 -3.7,-1.3 -5.55 A1.3 1.3 0 0 1 1.3 -5.55 C1.3 -3.7,0.3 -1.9,0 0 Z"/><path d="M0 0 C-0.3 -1.9,-1.3 -3.7,-1.3 -5.55 A1.3 1.3 0 0 1 1.3 -5.55 C1.3 -3.7,0.3 -1.9,0 0 Z" transform="rotate(60)"/><path d="M0 0 C-0.3 -1.9,-1.3 -3.7,-1.3 -5.55 A1.3 1.3 0 0 1 1.3 -5.55 C1.3 -3.7,0.3 -1.9,0 0 Z" transform="rotate(120)"/><path d="M0 0 C-0.3 -1.9,-1.3 -3.7,-1.3 -5.55 A1.3 1.3 0 0 1 1.3 -5.55 C1.3 -3.7,0.3 -1.9,0 0 Z" transform="rotate(180)"/><path d="M0 0 C-0.3 -1.9,-1.3 -3.7,-1.3 -5.55 A1.3 1.3 0 0 1 1.3 -5.55 C1.3 -3.7,0.3 -1.9,0 0 Z" transform="rotate(240)"/><path d="M0 0 C-0.3 -1.9,-1.3 -3.7,-1.3 -5.55 A1.3 1.3 0 0 1 1.3 -5.55 C1.3 -3.7,0.3 -1.9,0 0 Z" transform="rotate(300)"/><circle r="0.75"/></g>
<g transform="translate(708.80,1564.60) scale(0.850)" fill="#000"><path d="M0 0 C-0.3 -1.9,-1.3 -3.7,-1.3 -5.55 A1.3 1.3 0 0 1 1.3 -5.55 C1.3 -3.7,0.3 -1.9,0 0 Z"/><path d="M0 0 C-0.3 -1.9,-1.3 -3.7,-1.3 -5.55 A1.3 1.3 0 0 1 1.3 -5.55 C1.3 -3.7,0.3 -1.9,0 0 Z" transform="rotate(60)"/><path d="M0 0 C-0.3 -1.9,-1.3 -3.7,-1.3 -5.55 A1.3 1.3 0 0 1 1.3 -5.55 C1.3 -3.7,0.3 -1.9,0 0 Z" transform="rotate(120)"/><path d="M0 0 C-0.3 -1.9,-1.3 -3.7,-1.3 -5.55 A1.3 1.3 0 0 1 1.3 -5.55 C1.3 -3.7,0.3 -1.9,0 0 Z" transform="rotate(180)"/><path d="M0 0 C-0.3 -1.9,-1.3 -3.7,-1.3 -5.55 A1.3 1.3 0 0 1 1.3 -5.55 C1.3 -3.7,0.3 -1.9,0 0 Z" transform="rotate(240)"/><path d="M0 0 C-0.3 -1.9,-1.3 -3.7,-1.3 -5.55 A1.3 1.3 0 0 1 1.3 -5.55 C1.3 -3.7,0.3 -1.9,0 0 Z" transform="rotate(300)"/><circle r="0.75"/></g>
<g transform="translate(723.00,1564.60) scale(0.850)" fill="#000"><path d="M0 0 C-0.3 -1.9,-1.3 -3.7,-1.3 -5.55 A1.3 1.3 0 0 1 1.3 -5.55 C1.3 -3.7,0.3 -1.9,0 0 Z"/><path d="M0 0 C-0.3 -1.9,-1.3 -3.7,-1.3 -5.55 A1.3 1.3 0 0 1 1.3 -5.55 C1.3 -3.7,0.3 -1.9,0 0 Z" transform="rotate(60)"/><path d="M0 0 C-0.3 -1.9,-1.3 -3.7,-1.3 -5.55 A1.3 1.3 0 0 1 1.3 -5.55 C1.3 -3.7,0.3 -1.9,0 0 Z" transform="rotate(120)"/><path d="M0 0 C-0.3 -1.9,-1.3 -3.7,-1.3 -5.55 A1.3 1.3 0 0 1 1.3 -5.55 C1.3 -3.7,0.3 -1.9,0 0 Z" transform="rotate(180)"/><path d="M0 0 C-0.3 -1.9,-1.3 -3.7,-1.3 -5.55 A1.3 1.3 0 0 1 1.3 -5.55 C1.3 -3.7,0.3 -1.9,0 0 Z" transform="rotate(240)"/><path d="M0 0 C-0.3 -1.9,-1.3 -3.7,-1.3 -5.55 A1.3 1.3 0 0 1 1.3 -5.55 C1.3 -3.7,0.3 -1.9,0 0 Z" transform="rotate(300)"/><circle r="0.75"/></g>
<line x1="749.80" y1="1834.10" x2="862.80" y2="1834.10" stroke="#000" stroke-width="1.5"/>
<text transform="translate(792.67,1820.30) scale(1.0,0.94)" font-size="29.5">ns</text>
<path d="M87.80 2415.70 L87.80 1988.00 L517.10 1988.00 L517.10 2415.70 Z" fill="none" stroke="#1c1c1c" stroke-width="1.4" stroke-linejoin="miter"/>
<line x1="87.80" y1="1988.00" x2="87.80" y2="2415.70" stroke="#0d0d0d" stroke-width="1.5"/>
<line x1="87.80" y1="2415.70" x2="517.10" y2="2415.70" stroke="#0d0d0d" stroke-width="1.5"/>
<line x1="81.30" y1="2415.70" x2="87.80" y2="2415.70" stroke="#0d0d0d" stroke-width="1.4"/>
<text transform="translate(58.04,2424.14) scale(1,1.09)" font-size="23.6">0</text>
<line x1="81.30" y1="2358.63" x2="87.80" y2="2358.63" stroke="#0d0d0d" stroke-width="1.4"/>
<text transform="translate(58.40,2367.06) scale(1,1.09)" font-size="23.6">2</text>
<line x1="81.30" y1="2301.56" x2="87.80" y2="2301.56" stroke="#0d0d0d" stroke-width="1.4"/>
<text transform="translate(57.45,2309.99) scale(1,1.09)" font-size="23.6">4</text>
<line x1="81.30" y1="2244.49" x2="87.80" y2="2244.49" stroke="#0d0d0d" stroke-width="1.4"/>
<text transform="translate(57.81,2252.92) scale(1,1.09)" font-size="23.6">6</text>
<line x1="81.30" y1="2187.41" x2="87.80" y2="2187.41" stroke="#0d0d0d" stroke-width="1.4"/>
<text transform="translate(58.04,2195.85) scale(1,1.09)" font-size="23.6">8</text>
<line x1="81.30" y1="2130.34" x2="87.80" y2="2130.34" stroke="#0d0d0d" stroke-width="1.4"/>
<text transform="translate(46.24,2138.78) scale(1,1.09)" font-size="23.6">10</text>
<line x1="81.30" y1="2073.27" x2="87.80" y2="2073.27" stroke="#0d0d0d" stroke-width="1.4"/>
<text transform="translate(46.60,2081.71) scale(1,1.09)" font-size="23.6">12</text>
<line x1="81.30" y1="2016.20" x2="87.80" y2="2016.20" stroke="#0d0d0d" stroke-width="1.4"/>
<text transform="translate(45.65,2024.64) scale(1,1.09)" font-size="23.6">14</text>
<line x1="173.20" y1="2197.80" x2="173.20" y2="2155.10" stroke="#000" stroke-width="1.4"/>
<line x1="166.70" y1="2155.10" x2="179.70" y2="2155.10" stroke="#000" stroke-width="1.5"/>
<rect x="147.45" y="2197.80" width="51.50" height="217.90" fill="#ffffff" stroke="#000" stroke-width="1.5"/>
<line x1="173.20" y1="2415.70" x2="173.20" y2="2422.20" stroke="#000" stroke-width="1.4"/>
<line x1="259.10" y1="2375.60" x2="259.10" y2="2367.20" stroke="#000" stroke-width="1.4"/>
<line x1="252.60" y1="2367.20" x2="265.60" y2="2367.20" stroke="#000" stroke-width="1.5"/>
<rect x="233.35" y="2375.60" width="51.50" height="40.10" fill="#e2f3fe" stroke="#000" stroke-width="1.5"/>
<line x1="259.10" y1="2415.70" x2="259.10" y2="2422.20" stroke="#000" stroke-width="1.4"/>
<line x1="345.00" y1="2286.80" x2="345.00" y2="2274.80" stroke="#000" stroke-width="1.4"/>
<line x1="338.50" y1="2274.80" x2="351.50" y2="2274.80" stroke="#000" stroke-width="1.5"/>
<rect x="319.25" y="2286.80" width="51.50" height="128.90" fill="#80a0ff" stroke="#000" stroke-width="1.5"/>
<line x1="345.00" y1="2415.70" x2="345.00" y2="2422.20" stroke="#000" stroke-width="1.4"/>
<line x1="431.00" y1="2333.30" x2="431.00" y2="2313.30" stroke="#000" stroke-width="1.4"/>
<line x1="424.50" y1="2313.30" x2="437.50" y2="2313.30" stroke="#000" stroke-width="1.5"/>
<rect x="405.25" y="2333.30" width="51.50" height="82.40" fill="#0080ff" stroke="#000" stroke-width="1.5"/>
<line x1="431.00" y1="2415.70" x2="431.00" y2="2422.20" stroke="#000" stroke-width="1.4"/>
<text transform="translate(90.76,2018.30) scale(1.0,1.07)" font-size="23.35">2021 Bottom</text>
<path d="M216.90 2093.80 L216.90 2047.30 L376.50 2047.30 L376.50 2180.20" stroke="#000" stroke-width="1.5" fill="none"/>
<text transform="translate(277.27,2043.70) scale(1.0,0.94)" font-size="29.5">ns</text>
<line x1="163.00" y1="2140.50" x2="259.60" y2="2140.50" stroke="#000" stroke-width="1.5"/>
<g transform="translate(201.50,2117.80) scale(1.000)" fill="#000"><path d="M0 0 C-0.3 -1.9,-1.3 -3.7,-1.3 -5.55 A1.3 1.3 0 0 1 1.3 -5.55 C1.3 -3.7,0.3 -1.9,0 0 Z"/><path d="M0 0 C-0.3 -1.9,-1.3 -3.7,-1.3 -5.55 A1.3 1.3 0 0 1 1.3 -5.55 C1.3 -3.7,0.3 -1.9,0 0 Z" transform="rotate(60)"/><path d="M0 0 C-0.3 -1.9,-1.3 -3.7,-1.3 -5.55 A1.3 1.3 0 0 1 1.3 -5.55 C1.3 -3.7,0.3 -1.9,0 0 Z" transform="rotate(120)"/><path d="M0 0 C-0.3 -1.9,-1.3 -3.7,-1.3 -5.55 A1.3 1.3 0 0 1 1.3 -5.55 C1.3 -3.7,0.3 -1.9,0 0 Z" transform="rotate(180)"/><path d="M0 0 C-0.3 -1.9,-1.3 -3.7,-1.3 -5.55 A1.3 1.3 0 0 1 1.3 -5.55 C1.3 -3.7,0.3 -1.9,0 0 Z" transform="rotate(240)"/><path d="M0 0 C-0.3 -1.9,-1.3 -3.7,-1.3 -5.55 A1.3 1.3 0 0 1 1.3 -5.55 C1.3 -3.7,0.3 -1.9,0 0 Z" transform="rotate(300)"/><circle r="0.75"/></g>
<line x1="350.20" y1="2260.10" x2="446.20" y2="2260.10" stroke="#000" stroke-width="1.5"/>
<text transform="translate(392.22,2243.80) scale(1.0,0.94)" font-size="29.5">ns</text>
<text transform="translate(25.1,2247.25) rotate(-90)" font-size="28.33">LTR</text>
<text transform="translate(25.38,2161.33) rotate(-90)" font-size="28.33">%</text>
<path d="M3.4 2133.50 A11.9 11.9 0 0 1 25.8 2133.50 A12.8 12.8 0 0 0 3.4 2133.50 Z" fill="#000" stroke="#000" stroke-width="0.4"/>
<path d="M3.4 2165.40 A11.9 11.9 0 0 0 25.8 2165.40 A12.8 12.8 0 0 1 3.4 2165.40 Z" fill="#000" stroke="#000" stroke-width="0.4"/>
<path d="M534.80 2415.70 L534.80 1988.00 L963.80 1988.00 L963.80 2415.70 Z" fill="none" stroke="#1c1c1c" stroke-width="1.4" stroke-linejoin="miter"/>
<line x1="534.80" y1="1988.00" x2="534.80" y2="2415.70" stroke="#0d0d0d" stroke-width="1.5"/>
<line x1="534.80" y1="2415.70" x2="963.80" y2="2415.70" stroke="#0d0d0d" stroke-width="1.5"/>
<line x1="641.50" y1="2157.30" x2="641.50" y2="2117.00" stroke="#000" stroke-width="1.4"/>
<line x1="635.00" y1="2117.00" x2="648.00" y2="2117.00" stroke="#000" stroke-width="1.5"/>
<rect x="609.25" y="2157.30" width="64.50" height="258.40" fill="#ffffff" stroke="#000" stroke-width="1.5"/>
<line x1="641.50" y1="2415.70" x2="641.50" y2="2422.20" stroke="#000" stroke-width="1.4"/>
<line x1="748.70" y1="2312.80" x2="748.70" y2="2304.70" stroke="#000" stroke-width="1.4"/>
<line x1="742.20" y1="2304.70" x2="755.20" y2="2304.70" stroke="#000" stroke-width="1.5"/>
<rect x="716.45" y="2312.80" width="64.50" height="102.90" fill="#e2f3fe" stroke="#000" stroke-width="1.5"/>
<line x1="748.70" y1="2415.70" x2="748.70" y2="2422.20" stroke="#000" stroke-width="1.4"/>
<line x1="856.40" y1="2361.40" x2="856.40" y2="2352.10" stroke="#000" stroke-width="1.4"/>
<line x1="849.90" y1="2352.10" x2="862.90" y2="2352.10" stroke="#000" stroke-width="1.5"/>
<rect x="824.15" y="2361.40" width="64.50" height="54.30" fill="#80a0ff" stroke="#000" stroke-width="1.5"/>
<line x1="856.40" y1="2415.70" x2="856.40" y2="2422.20" stroke="#000" stroke-width="1.4"/>
<text transform="translate(537.21,2017.60) scale(1.0,1.07)" font-size="23.35">2021 Bottom</text>
<line x1="643.60" y1="2086.90" x2="809.60" y2="2086.90" stroke="#000" stroke-width="1.5"/>
<path d="M646.2 2086.9 L646.2 2100.3" stroke="#000" stroke-width="1.5" fill="none"/>
<path d="M809.6 2086.9 L809.6 2246.3" stroke="#000" stroke-width="1.5" fill="none"/>
<g transform="translate(710.30,2064.80) scale(0.870)" fill="#000"><path d="M0 0 C-0.3 -1.9,-1.3 -3.7,-1.3 -5.55 A1.3 1.3 0 0 1 1.3 -5.55 C1.3 -3.7,0.3 -1.9,0 0 Z"/><path d="M0 0 C-0.3 -1.9,-1.3 -3.7,-1.3 -5.55 A1.3 1.3 0 0 1 1.3 -5.55 C1.3 -3.7,0.3 -1.9,0 0 Z" transform="rotate(60)"/><path d="M0 0 C-0.3 -1.9,-1.3 -3.7,-1.3 -5.55 A1.3 1.3 0 0 1 1.3 -5.55 C1.3 -3.7,0.3 -1.9,0 0 Z" transform="rotate(120)"/><path d="M0 0 C-0.3 -1.9,-1.3 -3.7,-1.3 -5.55 A1.3 1.3 0 0 1 1.3 -5.55 C1.3 -3.7,0.3 -1.9,0 0 Z" transform="rotate(180)"/><path d="M0 0 C-0.3 -1.9,-1.3 -3.7,-1.3 -5.55 A1.3 1.3 0 0 1 1.3 -5.55 C1.3 -3.7,0.3 -1.9,0 0 Z" transform="rotate(240)"/><path d="M0 0 C-0.3 -1.9,-1.3 -3.7,-1.3 -5.55 A1.3 1.3 0 0 1 1.3 -5.55 C1.3 -3.7,0.3 -1.9,0 0 Z" transform="rotate(300)"/><circle r="0.75"/></g>
<g transform="translate(724.40,2064.80) scale(0.870)" fill="#000"><path d="M0 0 C-0.3 -1.9,-1.3 -3.7,-1.3 -5.55 A1.3 1.3 0 0 1 1.3 -5.55 C1.3 -3.7,0.3 -1.9,0 0 Z"/><path d="M0 0 C-0.3 -1.9,-1.3 -3.7,-1.3 -5.55 A1.3 1.3 0 0 1 1.3 -5.55 C1.3 -3.7,0.3 -1.9,0 0 Z" transform="rotate(60)"/><path d="M0 0 C-0.3 -1.9,-1.3 -3.7,-1.3 -5.55 A1.3 1.3 0 0 1 1.3 -5.55 C1.3 -3.7,0.3 -1.9,0 0 Z" transform="rotate(120)"/><path d="M0 0 C-0.3 -1.9,-1.3 -3.7,-1.3 -5.55 A1.3 1.3 0 0 1 1.3 -5.55 C1.3 -3.7,0.3 -1.9,0 0 Z" transform="rotate(180)"/><path d="M0 0 C-0.3 -1.9,-1.3 -3.7,-1.3 -5.55 A1.3 1.3 0 0 1 1.3 -5.55 C1.3 -3.7,0.3 -1.9,0 0 Z" transform="rotate(240)"/><path d="M0 0 C-0.3 -1.9,-1.3 -3.7,-1.3 -5.55 A1.3 1.3 0 0 1 1.3 -5.55 C1.3 -3.7,0.3 -1.9,0 0 Z" transform="rotate(300)"/><circle r="0.75"/></g>
<g transform="translate(738.50,2064.80) scale(0.870)" fill="#000"><path d="M0 0 C-0.3 -1.9,-1.3 -3.7,-1.3 -5.55 A1.3 1.3 0 0 1 1.3 -5.55 C1.3 -3.7,0.3 -1.9,0 0 Z"/><path d="M0 0 C-0.3 -1.9,-1.3 -3.7,-1.3 -5.55 A1.3 1.3 0 0 1 1.3 -5.55 C1.3 -3.7,0.3 -1.9,0 0 Z" transform="rotate(60)"/><path d="M0 0 C-0.3 -1.9,-1.3 -3.7,-1.3 -5.55 A1.3 1.3 0 0 1 1.3 -5.55 C1.3 -3.7,0.3 -1.9,0 0 Z" transform="rotate(120)"/><path d="M0 0 C-0.3 -1.9,-1.3 -3.7,-1.3 -5.55 A1.3 1.3 0 0 1 1.3 -5.55 C1.3 -3.7,0.3 -1.9,0 0 Z" transform="rotate(180)"/><path d="M0 0 C-0.3 -1.9,-1.3 -3.7,-1.3 -5.55 A1.3 1.3 0 0 1 1.3 -5.55 C1.3 -3.7,0.3 -1.9,0 0 Z" transform="rotate(240)"/><path d="M0 0 C-0.3 -1.9,-1.3 -3.7,-1.3 -5.55 A1.3 1.3 0 0 1 1.3 -5.55 C1.3 -3.7,0.3 -1.9,0 0 Z" transform="rotate(300)"/><circle r="0.75"/></g>
<line x1="749.80" y1="2295.30" x2="862.80" y2="2295.30" stroke="#000" stroke-width="1.5"/>
<g transform="translate(801.70,2268.30) scale(0.855)" fill="#000"><path d="M0 0 C-0.3 -1.9,-1.3 -3.7,-1.3 -5.55 A1.3 1.3 0 0 1 1.3 -5.55 C1.3 -3.7,0.3 -1.9,0 0 Z"/><path d="M0 0 C-0.3 -1.9,-1.3 -3.7,-1.3 -5.55 A1.3 1.3 0 0 1 1.3 -5.55 C1.3 -3.7,0.3 -1.9,0 0 Z" transform="rotate(60)"/><path d="M0 0 C-0.3 -1.9,-1.3 -3.7,-1.3 -5.55 A1.3 1.3 0 0 1 1.3 -5.55 C1.3 -3.7,0.3 -1.9,0 0 Z" transform="rotate(120)"/><path d="M0 0 C-0.3 -1.9,-1.3 -3.7,-1.3 -5.55 A1.3 1.3 0 0 1 1.3 -5.55 C1.3 -3.7,0.3 -1.9,0 0 Z" transform="rotate(180)"/><path d="M0 0 C-0.3 -1.9,-1.3 -3.7,-1.3 -5.55 A1.3 1.3 0 0 1 1.3 -5.55 C1.3 -3.7,0.3 -1.9,0 0 Z" transform="rotate(240)"/><path d="M0 0 C-0.3 -1.9,-1.3 -3.7,-1.3 -5.55 A1.3 1.3 0 0 1 1.3 -5.55 C1.3 -3.7,0.3 -1.9,0 0 Z" transform="rotate(300)"/><circle r="0.75"/></g>
<text transform="translate(149.13,2455.00) scale(1.0,1.05)" font-size="23.6">SXY</text>
<text transform="translate(226.53,2455.00) scale(1.0,1.05)" font-size="23.6">SHXY</text>
<text transform="translate(311.90,2455.00) scale(1.0,1.05)" font-size="23.6">INDxy</text>
<text transform="translate(397.90,2455.00) scale(1.0,1.05)" font-size="23.6">IHDxy</text>
<text transform="translate(618.96,2455.40) scale(1.0,1.05)" font-size="23.6">SZD</text>
<text transform="translate(716.31,2455.40) scale(1.0,1.05)" font-size="23.6">INDzd</text>
<text transform="translate(824.01,2455.40) scale(1.0,1.05)" font-size="23.6">IHDzd</text>
<text transform="translate(255.21,2496.10) scale(1.0,1.04)" font-size="23.2">Treatment</text>
<text transform="translate(701.91,2496.10) scale(1.0,1.04)" font-size="23.2">Treatment</text>
</svg>
</body></html>
